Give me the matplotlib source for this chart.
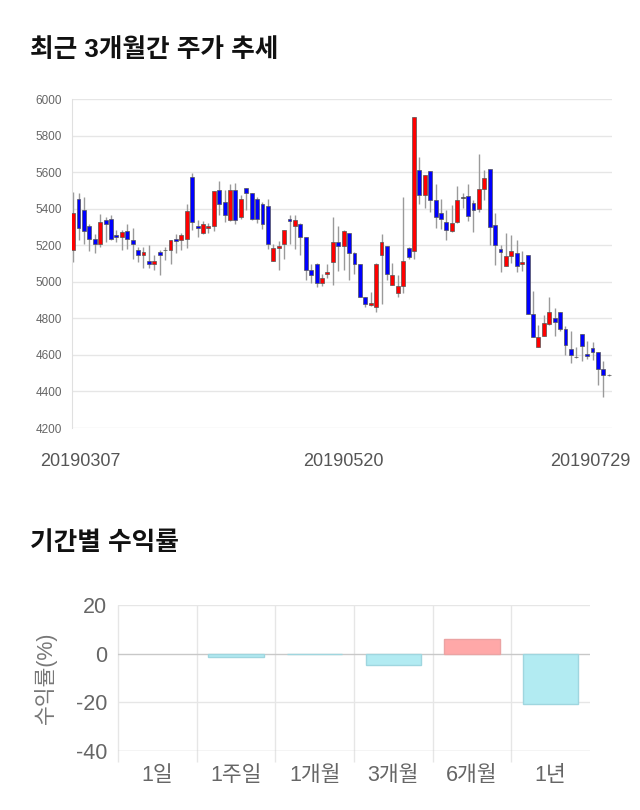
import numpy as np
import matplotlib
matplotlib.use("Agg")
import matplotlib.pyplot as plt
from matplotlib.transforms import ScaledTranslation

plt.rcParams['font.family'] = ['Liberation Sans', 'Noto Sans CJK KR']
plt.rcParams['axes.unicode_minus'] = False

# daily candles, 2019-03-07 .. 2019-07-29 (100 trading days)
opens = [5176, 5455, 5395, 5305, 5236, 5206, 5336, 5344, 5255, 5245,
         5276, 5227, 5176, 5145, 5115, 5096, 5164, 5173, 5176, 5236,
         5227, 5236, 5573, 5305, 5267, 5294, 5305, 5504, 5436, 5336,
         5504, 5355, 5513, 5486, 5455, 5424, 5413, 5115, 5185, 5206,
         5345, 5305, 5315, 5245, 5067, 5096, 4991, 5045, 5106, 5215,
         5195, 5267, 5155, 5096, 4918, 4873, 4864, 5145, 5196, 4985,
         4936, 4978, 5185, 5167, 5613, 5473, 5604, 5445, 5376, 5327,
         5280, 5328, 5460, 5472, 5432, 5399, 5509, 5619, 5309, 5179,
         5089, 5139, 5157, 5099, 5148, 4824, 4644, 4705, 4767, 4804,
         4837, 4740, 4630, 4589, 4714, 4604, 4635, 4617, 4522, 4490]
highs = [5491, 5485, 5464, 5318, 5264, 5373, 5355, 5364, 5282, 5282,
         5318, 5296, 5191, 5191, 5200, 5146, 5173, 5191, 5227, 5264,
         5267, 5427, 5595, 5336, 5333, 5322, 5496, 5551, 5504, 5536,
         5542, 5476, 5513, 5486, 5464, 5436, 5455, 5204, 5224, 5285,
         5364, 5367, 5322, 5245, 5096, 5104, 5045, 5100, 5355, 5304,
         5282, 5267, 5164, 5100, 4918, 4946, 5104, 5264, 5196, 5104,
         5036, 5464, 5191, 5900, 5685, 5585, 5604, 5536, 5455, 5395,
         5419, 5524, 5487, 5533, 5450, 5701, 5610, 5619, 5377, 5199,
         5267, 5258, 5231, 5166, 5148, 4950, 4763, 4818, 4919, 4859,
         4837, 4760, 4730, 4644, 4714, 4677, 4672, 4617, 4566, 4495]
lows = [5109, 5227, 5209, 5169, 5155, 5191, 5218, 5227, 5218, 5176,
        5182, 5127, 5109, 5078, 5073, 5064, 5036, 5118, 5100, 5155,
        5176, 5187, 5282, 5245, 5264, 5269, 5276, 5364, 5327, 5333,
        5315, 5342, 5395, 5336, 5322, 5287, 5178, 5115, 5067, 5127,
        5206, 5178, 5145, 5009, 4991, 4969, 4976, 5018, 4985, 5058,
        5067, 5009, 5045, 4918, 4864, 4867, 4836, 4878, 5009, 4982,
        4918, 4936, 5127, 5127, 5424, 5406, 5380, 5296, 5287, 5227,
        5273, 5322, 5401, 5331, 5273, 5383, 5450, 5199, 5090, 5051,
        5084, 5102, 5051, 5060, 4824, 4696, 4644, 4705, 4762, 4705,
        4733, 4602, 4553, 4584, 4566, 4580, 4571, 4434, 4370, 4485]
closes = [5376, 5295, 5276, 5236, 5206, 5327, 5318, 5236, 5245, 5273,
          5236, 5206, 5145, 5164, 5096, 5115, 5145, 5176, 5227, 5224,
          5258, 5385, 5327, 5294, 5315, 5304, 5495, 5424, 5364, 5504,
          5336, 5455, 5486, 5345, 5345, 5315, 5206, 5187, 5196, 5285,
          5334, 5336, 5245, 5067, 5036, 4991, 5018, 5055, 5215, 5195,
          5276, 5155, 5096, 4918, 4878, 4882, 5096, 5215, 5045, 5036,
          4978, 5115, 5136, 5900, 5473, 5585, 5445, 5355, 5345, 5285,
          5322, 5450, 5460, 5359, 5390, 5509, 5569, 5300, 5199, 5161,
          5139, 5170, 5089, 5108, 4824, 4696, 4699, 4773, 4837, 4782,
          4740, 4653, 4602, 4589, 4650, 4595, 4617, 4522, 4489, 4490]
date_ticks = [0, 50, 99]
date_labels = ["20190307", "20190520", "20190729"]

periods = ["1일", "1주일", "1개월", "3개월", "6개월", "1년"]
returns = [0.0, -1.4, -0.2, -4.6, 6.1, -20.7]

fig = plt.figure(figsize=(6.4, 8.1), dpi=100)

# ---- candlestick chart ----
ax1 = fig.add_axes([71.5 / 640, 1 - 428 / 810, (612 - 71.5) / 640, (428 - 99) / 810])
o = np.array(opens)
c = np.array(closes)
h = np.array(highs)
l = np.array(lows)
x = np.arange(len(o))
up_col = np.where(c > o, "#ff0000", np.where(c < o, "#0000ff", "#333333"))
body_bot = np.minimum(o, c)
body_h = np.maximum(np.abs(c - o), 2)

ax1.vlines(x, l, h, color="#9a9a9a", lw=1, zorder=2)
ax1.bar(x, body_h, bottom=body_bot, width=0.72, color=up_col,
        edgecolor="#555555", linewidth=0.5, zorder=3)

ax1.set_xlim(-0.3, 99.6)
ax1.set_ylim(4200, 6000)
ax1.set_yticks(range(4200, 6001, 200))
ax1.grid(axis="y", color="#e6e6e6", lw=1, zorder=0)
for s in ["top", "right", "bottom"]:
    ax1.spines[s].set_visible(False)
ax1.spines["left"].set_color("#e0e0e0")
ax1.tick_params(axis="y", length=0, pad=7, labelsize=8.5, labelcolor="#666666")
ax1.set_xticks(date_ticks)
ax1.set_xticklabels(date_labels)
ax1.tick_params(axis="x", length=0, pad=18, labelsize=13, labelcolor="#555555")
offs = [7, 0, -18]
for lab, dx in zip(ax1.get_xticklabels(), offs):
    lab.set_transform(lab.get_transform() + ScaledTranslation(dx / 100, 0, fig.dpi_scale_trans))

fig.text(30 / 640, 1 - 50 / 810, "최근 3개월간 주가 추세", fontsize=18.5,
         fontweight="bold", va="center", color="#111111")

# ---- period returns ----
ax2 = fig.add_axes([118 / 640, 1 - 751 / 810, (590 - 118) / 640, (751 - 605) / 810])
bar_fill = ["#ffa8a8" if v > 0 else "#b2ebf2" for v in returns]
bar_edge = ["#eba3a3" if v > 0 else "#9fd6df" for v in returns]
bar_lw = [1 if v != 0 else 0 for v in returns]
ax2.bar(range(len(periods)), returns, width=0.7, color=bar_fill,
        edgecolor=bar_edge, linewidth=bar_lw, zorder=3)
ax2.set_xlim(-0.5, 5.5)
ax2.set_ylim(-40, 20)
ax2.set_yticks([-40, -20, 0, 20])
for v in [20, -20]:
    ax2.axhline(v, color="#e6e6e6", lw=1, zorder=1)
ax2.axhline(0, color="#c8c8c8", lw=1, zorder=2)
ax2.axhline(-40, color="#c8c8c8", lw=1, zorder=2)
ax2.vlines(np.arange(-0.5, 5.0, 1.0), -44.5, 20, color="#e6e6e6", lw=1,
           clip_on=False, zorder=1)
for s in ax2.spines.values():
    s.set_visible(False)
ax2.set_xticks(range(len(periods)))
ax2.set_xticklabels(periods)
ax2.tick_params(axis="x", length=0, pad=10, labelsize=15.5, labelcolor="#666666")
ax2.tick_params(axis="y", length=0, pad=8, labelsize=15.5, labelcolor="#666666")
ax2.set_ylabel("수익률(%)", fontsize=15.5, color="#777777")
ax2.yaxis.set_label_coords(-0.13, 0.5)

fig.text(30 / 640, 1 - 543 / 810, "기간별 수익률", fontsize=18.5,
         fontweight="bold", va="center", color="#111111")

fig.savefig("out.png", dpi=100, facecolor="white")
